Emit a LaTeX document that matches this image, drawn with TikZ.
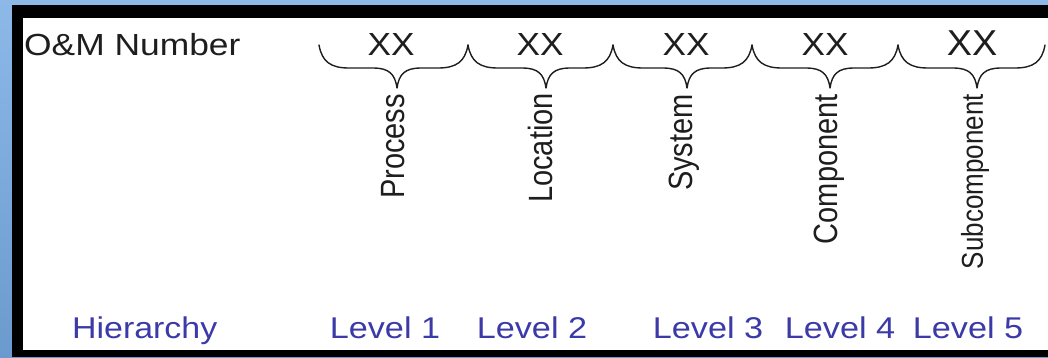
\documentclass[tikz,border=0pt]{standalone}
\usepackage{fontspec}
\setmainfont{Liberation Sans}
\usepackage{graphicx}
\definecolor{bgtop}{HTML}{8CB9E8}
\definecolor{bgbot}{HTML}{6B9ACE}
\definecolor{ink}{HTML}{1E1E1E}
\definecolor{lvl}{HTML}{3C3AA8}
\newcommand{\hs}[2][1.14]{\scalebox{#1}[1]{#2}}
\newcommand{\vs}[1]{\scalebox{1.16}[1]{\rotatebox{90}{#1}}}
\tikzset{
  toptext/.style={inner sep=0pt, text=ink, font=\fontsize{30.5}{36}\selectfont},
  xxtext/.style={inner sep=0pt, text=ink, font=\fontsize{32}{38}\selectfont, anchor=base},
  lvltext/.style={inner sep=0pt, text=lvl, font=\fontsize{30}{36}\selectfont, anchor=base},
  vtext/.style={inner sep=0pt, text=ink, font=\fontsize{29}{35}\selectfont, anchor=north},
  bracepath/.style={draw=ink, line width=1.4pt, line join=round, line cap=round}
}
\newcommand{\brc}[4]{% name, left, tip, right
  \coordinate (#1L) at (#2,45);
  \coordinate (#1T) at (#3,88);
  \coordinate (#1R) at (#4,45);
  \draw[bracepath] (#1L) .. controls (#2+3,62) and (#2+12,68) .. (#2+30,68)
    -- (#3-24,68) .. controls (#3-8,68) and (#3-2,74) .. (#1T)
    .. controls (#3+2,74) and (#3+8,68) .. (#3+24,68)
    -- (#4-30,68) .. controls (#4-12,68) and (#4-3,62) .. (#1R);
}
\begin{document}
\begin{tikzpicture}[x=1pt,y=-1pt]
\useasboundingbox (0,0) rectangle (1048,357);
\shade[top color=bgtop, bottom color=bgbot] (0,0) rectangle (1048,357);
\fill[black] (12,5) rectangle (1048,357);
\fill[white] (23,18) rectangle (1048,350);

\node[toptext, anchor=base west] (om) at (24,55) {\hs[1.16]{O\&M Number}};

\node[xxtext] (x1) at (391,55) {\hs[1.1]{XX}};
\node[xxtext] (x2) at (540,55) {\hs[1.1]{XX}};
\node[xxtext] (x3) at (686,55) {\hs[1.1]{XX}};
\node[xxtext] (x4) at (825,55) {\hs[1.1]{XX}};
\node[xxtext, font=\fontsize{36}{42}\selectfont] (x5) at (972,55) {\hs[1.05]{XX}};

\brc{b1}{319}{397}{468}
\brc{b2}{468}{546}{613}
\brc{b3}{613}{687}{752}
\brc{b4}{752}{830}{898}
\brc{b5}{898}{977}{1045}

\node[vtext] (p1) at (393,94) {\vs{Process}};
\node[vtext] (p2) at (540,93) {\vs{Location}};
\node[vtext] (p3) at (684,94) {\vs{System}};
\node[vtext] (p4) at (829,94) {\vs{Component}};
\node[vtext, font=\fontsize{26}{31}\selectfont] (p5) at (975,94) {\vs{Subcomponent}};

\node[lvltext, anchor=base west] (h) at (72,338) {\hs[1.13]{Hierarchy}};
\node[lvltext] (l1) at (385,338) {\hs{Level 1}};
\node[lvltext] (l2) at (532,338) {\hs{Level 2}};
\node[lvltext] (l3) at (708,338) {\hs{Level 3}};
\node[lvltext] (l4) at (840,338) {\hs{Level 4}};
\node[lvltext] (l5) at (968,338) {\hs{Level 5}};
\end{tikzpicture}
\end{document}
